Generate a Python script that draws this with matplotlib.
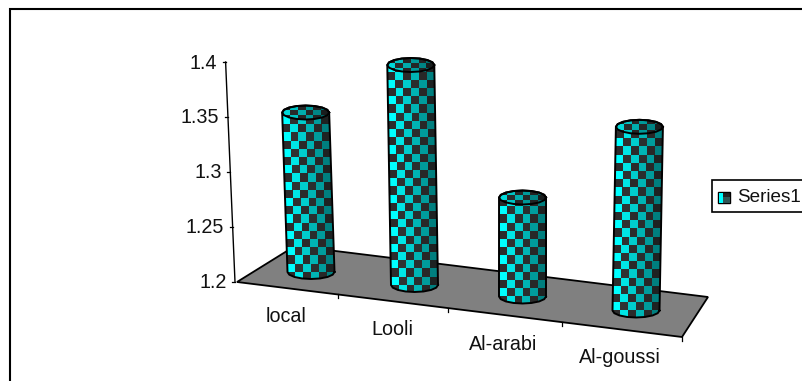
import numpy as np
import matplotlib
matplotlib.use("Agg")
import matplotlib.pyplot as plt
from matplotlib.patches import Polygon, Rectangle, PathPatch
from matplotlib.path import Path

plt.rcParams['font.family'] = ['Liberation Sans', 'DejaVu Sans']

categories = ['local', 'Looli', 'Al-arabi', 'Al-goussi']
values = [1.345, 1.40, 1.29, 1.367]
y_ticks = [1.2, 1.25, 1.3, 1.35, 1.4]
y_tick_labels = ['1.2', '1.25', '1.3', '1.35', '1.4']
series_name = 'Series1'

# layout of the pseudo-3D scene, in pixels
Y0, PX_PER_UNIT, AXIS_X0, AXIS_LEAN = 282.0, 1100.0, 235.0, 47.0
BAR_X = [311.0, 414.5, 522.5, 636.0]
BAR_Y = [272.0, 285.0, 296.5, 310.5]
RX, RY, CELL = 23.5, 7.0, 8.2
FLOOR = [(237, 282), (295, 246), (708, 297), (682, 337)]
FRONT_TICKS = [338, 448, 562, 682]
LABEL_POS = [(286, 322), (392, 335), (503, 350), (620, 363)]
FS = 14.2
FS_LEGEND = 13.6
INK = '#111111'

fig = plt.figure(figsize=(8.03, 3.81), dpi=100)
ax = fig.add_axes([0, 0, 1, 1])
ax.set_xlim(0, 803)
ax.set_ylim(381, 0)
ax.axis('off')

# chart frame
ax.plot([10.5, 10.5, 810], [390, 8.5, 8.5], color='black', lw=1.5, solid_joinstyle='miter')

# floor
ax.add_patch(Polygon(FLOOR, closed=True, fc='#808080', ec='black', lw=1.3, zorder=2))
front_slope = (FLOOR[3][1] - FLOOR[0][1]) / (FLOOR[3][0] - FLOOR[0][0])
for tx in FRONT_TICKS:
    ty = FLOOR[0][1] + (tx - FLOOR[0][0]) * front_slope
    ax.plot([tx, tx], [ty, ty + 3.5], color='black', lw=0.9, zorder=2)

# value axis
def axis_x(v):
    return AXIS_X0 - (v - y_ticks[0]) * AXIS_LEAN

def axis_y(v):
    return Y0 - (v - y_ticks[0]) * PX_PER_UNIT

ax.plot([axis_x(y_ticks[0]), axis_x(y_ticks[-1])],
        [axis_y(y_ticks[0]), axis_y(y_ticks[-1])], color='black', lw=1.0, zorder=3)
for v, lab in zip(y_ticks, y_tick_labels):
    ax.plot([axis_x(v) - 3, axis_x(v)], [axis_y(v), axis_y(v)], color='black', lw=0.9, zorder=3)
    ax.text(axis_x(v) - 8.5, axis_y(v) + 1.0, lab, ha='right', va='center', fontsize=FS, color=INK)

# category labels
for (lx, ly), name in zip(LABEL_POS, categories):
    ax.text(lx, ly, name, ha='center', va='baseline', fontsize=FS, color=INK)

BRIGHT = ['#00ffff', '#00e6e6', '#00cccc', '#00b4b4', '#009c9c', '#007f7f']
DARK = ['#2c2c2c', '#2f3232', '#2b2b2b', '#2a2e2e', '#282828', '#1e2222']

def checker_colors(nrows, ncols=6, offset=0):
    img = np.zeros((nrows, ncols, 3))
    for r in range(nrows):
        for c in range(ncols):
            hexc = BRIGHT[c] if (r + c + offset) % 2 == 0 else DARK[c]
            img[r, c] = matplotlib.colors.to_rgb(hexc)
    return img

def ring(cx, cy, rx, ry, a0, a1, n):
    t = np.linspace(a0, a1, n)
    return np.column_stack([cx + rx * np.cos(t), cy + ry * np.sin(t)])

# cylinders, one per value
for i, (bx, by, v) in enumerate(zip(BAR_X, BAR_Y, values)):
    h = (v - y_ticks[0]) * PX_PER_UNIT
    tx = bx + 0.00016 * (bx - 520) * h
    ty = by - h
    z = 5 + i

    bottom = ring(bx, by, RX, RY, 0, np.pi, 9)
    top_back = ring(tx, ty, RX, RY, np.pi, 2 * np.pi, 9)
    outline = np.vstack([bottom, top_back, bottom[:1]])
    clip = Path(outline, closed=True)

    nrows = int(np.ceil((h + 2 * RY + 4) / CELL))
    row_edges = by + RY + 1 - np.arange(nrows + 1) * CELL
    frac = (by - row_edges) / h
    centre = bx + (tx - bx) * frac
    offs = np.linspace(-RX, RX, 7)
    X = centre[:, None] + offs[None, :]
    Y = np.repeat(row_edges[:, None], 7, axis=1)
    mesh = ax.pcolormesh(X, Y, checker_colors(nrows, offset=1), shading='flat',
                         antialiased=False, zorder=z)
    patch = PathPatch(clip, transform=ax.transData, fc='none', ec='none')
    ax.add_patch(patch)
    mesh.set_clip_path(patch)

    # top face
    top_ring = ring(tx, ty, RX, RY, 0, 2 * np.pi, 17)
    face = PathPatch(Path(top_ring, closed=True), transform=ax.transData, fc='none', ec='none')
    ax.add_patch(face)
    te = ty + RY + 1 - np.arange(4) * 5.2
    XT = np.tile(tx + np.linspace(-RX, RX, 7), (4, 1))
    YT = np.repeat(te[:, None], 7, axis=1)
    tcols = checker_colors(3, offset=1) * 0.85
    tmesh = ax.pcolormesh(XT, YT, tcols, shading='flat', antialiased=False, zorder=z + 0.1)
    tmesh.set_clip_path(face)

    # outlines
    ax.plot(outline[:, 0], outline[:, 1], color='black', lw=1.4, zorder=z + 0.2,
            solid_joinstyle='round')
    ax.plot(top_ring[:, 0], top_ring[:, 1], color='black', lw=1.4, zorder=z + 0.2,
            solid_joinstyle='round')

# legend
ax.add_patch(Rectangle((712, 180), 110, 32, fc='white', ec='black', lw=1.2, zorder=3))
ax.add_patch(Rectangle((718.5, 192), 12, 11, fc='#222222', ec='black', lw=1.0, zorder=4))
ax.add_patch(Rectangle((719, 193), 4, 9.5, fc='#00ffff', ec='none', zorder=5))
ax.add_patch(Rectangle((723, 197), 7, 5.5, fc='#2f5555', ec='none', zorder=5))
ax.text(737, 197, series_name, ha='left', va='center', fontsize=FS_LEGEND, color=INK, zorder=5)

fig.savefig('out.png', dpi=100)
